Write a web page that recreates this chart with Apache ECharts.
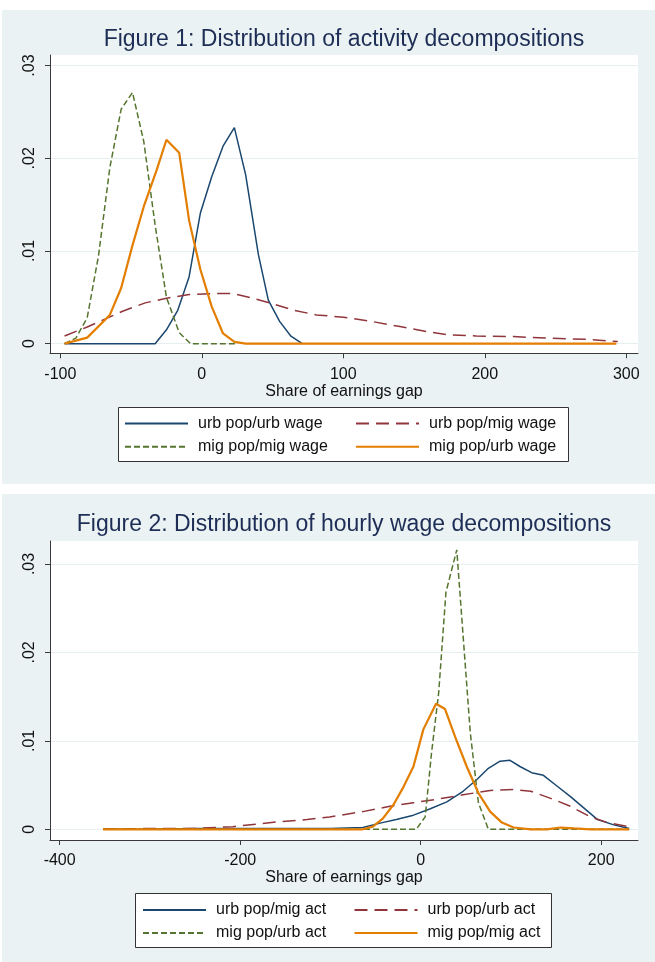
<!DOCTYPE html>
<html>
<head>
<meta charset="utf-8">
<script src="https://cdn.jsdelivr.net/npm/echarts@6/dist/echarts.min.js"></script>
<style>
html,body{margin:0;padding:0;background:#fff;}
#chart{width:655px;height:962px;}
</style>
</head>
<body>
<div id="chart"></div>
<script>
// ---------- Tick labels ----------
const fig1XTicks = [-100, 0, 100, 200, 300];
const fig2XTicks = [-400, -200, 0, 200];
const yTicks = [0, 0.01, 0.02, 0.03];
const yTickLabels = ['0', '.01', '.02', '.03'];

const fig1Title = 'Figure 1: Distribution of activity decompositions';
const fig2Title = 'Figure 2: Distribution of hourly wage decompositions';
const xAxisTitle = 'Share of earnings gap';

// ---------- Figure 1 series ----------
const fig1Names = ['urb pop/urb wage', 'urb pop/mig wage', 'mig pop/mig wage', 'mig pop/urb wage'];

const f1UrbUrbX = [-97, -89, -81, -73, -65, -57, -49, -41, -33, -25, -17, -9, -1, 7, 15, 23, 31, 40, 47, 55, 63, 71];
const f1UrbUrbY = [0, 0, 0, 0, 0, 0, 0, 0, 0, 0.0015, 0.0036, 0.0072, 0.0141, 0.018, 0.0213, 0.0233, 0.0182, 0.0096, 0.0047, 0.0024, 0.0008, 0];

const f1UrbMigX = [-97, -81, -56, -40, -25, -9, 8, 22, 36, 48, 65, 81, 100, 117, 140, 159, 175, 194, 220, 248, 272, 294];
const f1UrbMigY = [0.00083, 0.0018, 0.0035, 0.0044, 0.0049, 0.0053, 0.0054, 0.0054, 0.0049, 0.0044, 0.0036, 0.0031, 0.00285, 0.00248, 0.00184, 0.0013, 0.00094, 0.00083, 0.00076, 0.00058, 0.00047, 0.00022];

const f1MigMigX = [-97, -89, -81, -73, -65, -57, -49, -41, -33, -25, -16, -8, 0, 8, 16, 24];
const f1MigMigY = [0, 0.0006, 0.0028, 0.0095, 0.019, 0.0253, 0.0271, 0.0218, 0.0128, 0.005, 0.0012, 0, 0, 0, 0, 0];

const f1MigUrbX = [-97, -81, -65, -57, -49, -41, -32, -25, -16, -9, -1, 7, 15, 23, 31, 60, 100, 150, 200, 250, 293];
const f1MigUrbY = [0, 0.00065, 0.0031, 0.006, 0.0106, 0.0148, 0.0187, 0.022, 0.0206, 0.0133, 0.008, 0.004, 0.0011, 0.0002, 0, 0, 0, 0, 0, 0, 0];

// ---------- Figure 2 series ----------
const fig2Names = ['urb pop/mig act', 'urb pop/urb act', 'mig pop/urb act', 'mig pop/mig act'];

const f2UrbMigX = [-352, -300, -250, -200, -150, -100, -64, -45, -27, -8, 10, 29, 47, 62, 75, 88, 99, 110, 123, 136, 151, 166, 181, 196, 214, 231];
const f2UrbMigY = [0, 0, 0.0001, 0.0001, 0.0001, 0.0001, 0.0002, 0.0007, 0.0011, 0.0016, 0.0023, 0.0031, 0.0043, 0.0056, 0.0069, 0.0077, 0.0078, 0.0071, 0.0064, 0.0061, 0.0049, 0.0037, 0.0024, 0.0011, 0.0005, 0.0001];

const f2UrbUrbX = [-352, -300, -250, -208, -163, -126, -101, -64, -34, -8, 18, 47, 77, 103, 122, 144, 166, 188, 207, 231];
const f2UrbUrbY = [0, 0.0001, 0.0001, 0.0003, 0.0008, 0.0011, 0.0014, 0.002, 0.0026, 0.003, 0.0034, 0.0039, 0.0044, 0.0045, 0.0043, 0.0035, 0.0026, 0.0014, 0.00076, 0.0003];

const f2MigUrbX = [-352, -250, -150, -50, -5, 5, 12, 20, 28, 40, 47, 55, 64, 75, 120, 180, 231];
const f2MigUrbY = [0, 0, 0, 0, 0, 0.0014, 0.0086, 0.0155, 0.0268, 0.0316, 0.0219, 0.0109, 0.003, 0, 0, 0, 0];

const f2MigMigX = [-352, -250, -150, -64, -53, -42, -30, -19, -8, 3, 17, 27, 38, 51, 64, 77, 90, 103, 122, 140, 155, 170, 188, 231];
const f2MigMigY = [0, 0, 0, 0, 0.0003, 0.0012, 0.0028, 0.0048, 0.0071, 0.0113, 0.0142, 0.0136, 0.0105, 0.0071, 0.0041, 0.002, 0.00076, 0.0002, 0, 0, 0.0002, 0.0001, 0, 0];

// ---------- Styling ----------
const FONT = 'Liberation Sans, Arial, sans-serif';
const PANEL_BG = '#eaf2f3';
const TEXT = '#111';
const AXIS = '#3a3a3a';
const GRIDLINE = '#e6eef0';
const styles = [
  { color: '#1a476f', width: 1.5, type: 'solid' },
  { color: '#90353b', width: 1.5, type: [13, 7] },
  { color: '#55752f', width: 1.5, type: [6, 3] },
  { color: '#e37e00', width: 2.2, type: 'solid' }
];

const zip = (xs, ys) => xs.map((x, i) => [x, ys[i]]);
const yFmt = v => { const i = yTicks.findIndex(t => Math.abs(t - v) < 1e-9); return i >= 0 ? yTickLabels[i] : ''; };

function makeX(gridIndex, min, max, ticks) {
  return {
    type: 'value', gridIndex, min, max, position: 'bottom',
    axisLine: { show: true, onZero: false, lineStyle: { color: AXIS, width: 1 } },
    axisTick: { show: true, length: 5, customValues: ticks, lineStyle: { color: AXIS } },
    axisLabel: { customValues: ticks, margin: 13, color: TEXT, fontFamily: FONT, fontSize: 16 },
    splitLine: { show: false },
    name: xAxisTitle, nameLocation: 'middle', nameGap: 28,
    nameTextStyle: { color: TEXT, fontFamily: FONT, fontSize: 16 }
  };
}
function makeY(gridIndex, min, max) {
  return {
    type: 'value', gridIndex, min, max, position: 'left',
    axisLine: { show: true, onZero: false, lineStyle: { color: AXIS, width: 1 } },
    axisTick: { show: true, length: 5, customValues: yTicks, lineStyle: { color: AXIS } },
    axisLabel: { customValues: yTicks, rotate: 90, margin: 12, formatter: yFmt, color: TEXT, fontFamily: FONT, fontSize: 16 },
    splitLine: { show: true, lineStyle: { color: GRIDLINE, width: 1 } }
  };
}
function makeSeries(name, xs, ys, k, axisIdx) {
  return {
    type: 'line', name, data: zip(xs, ys), xAxisIndex: axisIdx, yAxisIndex: axisIdx,
    showSymbol: false, symbol: 'none', smooth: false, animation: false,
    lineStyle: { color: styles[k].color, width: styles[k].width, type: styles[k].type },
    itemStyle: { color: styles[k].color },
    emphasis: { disabled: true }, silent: true
  };
}
function makeLegend(name, left, centerY) {
  return {
    data: [name], left, top: centerY - 8, padding: 0, itemWidth: 63, itemHeight: 14,
    selectedMode: false,
    itemStyle: { color: 'rgba(0,0,0,0)', borderWidth: 0, opacity: 0 },
    textStyle: { color: TEXT, fontFamily: FONT, fontSize: 16, padding: [0, 0, 0, 5] }
  };
}

const option = {
  backgroundColor: '#ffffff',
  animation: false,
  grid: [
    { left: 50, top: 55, width: 588, height: 298.3, show: true, backgroundColor: '#ffffff', borderWidth: 0, containLabel: false },
    { left: 50, top: 541, width: 588, height: 299, show: true, backgroundColor: '#ffffff', borderWidth: 0, containLabel: false }
  ],
  xAxis: [makeX(0, -107.3, 308.3, fig1XTicks), makeX(1, -410.7, 240.8, fig2XTicks)],
  yAxis: [makeY(0, -0.00104, 0.03114), makeY(1, -0.00121, 0.0326)],
  legend: [
    makeLegend(fig1Names[0], 124, 423.5),
    makeLegend(fig1Names[1], 355, 423.5),
    makeLegend(fig1Names[2], 124, 446.7),
    makeLegend(fig1Names[3], 355, 446.7),
    makeLegend(fig2Names[0], 142, 910),
    makeLegend(fig2Names[1], 353.5, 910),
    makeLegend(fig2Names[2], 142, 933),
    makeLegend(fig2Names[3], 353.5, 933)
  ],
  graphic: [
    { type: 'rect', z: -100, shape: { x: 2, y: 10, width: 653, height: 474 }, style: { fill: PANEL_BG } },
    { type: 'rect', z: -100, shape: { x: 2, y: 494, width: 653, height: 468 }, style: { fill: PANEL_BG } },
    { type: 'rect', z: 1, shape: { x: 118.5, y: 407.5, width: 450, height: 54 }, style: { fill: '#fff', stroke: '#333', lineWidth: 1 } },
    { type: 'rect', z: 1, shape: { x: 135.5, y: 893.5, width: 416, height: 54 }, style: { fill: '#fff', stroke: '#333', lineWidth: 1 } },
    { type: 'text', z: 5, x: 344, y: 40, style: { text: fig1Title, textAlign: 'center', textVerticalAlign: 'middle', fill: '#1e2d55', font: '23px ' + FONT } },
    { type: 'text', z: 5, x: 344, y: 525, style: { text: fig2Title, textAlign: 'center', textVerticalAlign: 'middle', fill: '#1e2d55', font: '23px ' + FONT } }
  ],
  series: [
    makeSeries(fig1Names[0], f1UrbUrbX, f1UrbUrbY, 0, 0),
    makeSeries(fig1Names[1], f1UrbMigX, f1UrbMigY, 1, 0),
    makeSeries(fig1Names[2], f1MigMigX, f1MigMigY, 2, 0),
    makeSeries(fig1Names[3], f1MigUrbX, f1MigUrbY, 3, 0),
    makeSeries(fig2Names[0], f2UrbMigX, f2UrbMigY, 0, 1),
    makeSeries(fig2Names[1], f2UrbUrbX, f2UrbUrbY, 1, 1),
    makeSeries(fig2Names[2], f2MigUrbX, f2MigUrbY, 2, 1),
    makeSeries(fig2Names[3], f2MigMigX, f2MigMigY, 3, 1)
  ]
};

const chart = echarts.init(document.getElementById('chart'), null, { renderer: 'canvas' });
chart.setOption(option);
</script>
</body>
</html>
